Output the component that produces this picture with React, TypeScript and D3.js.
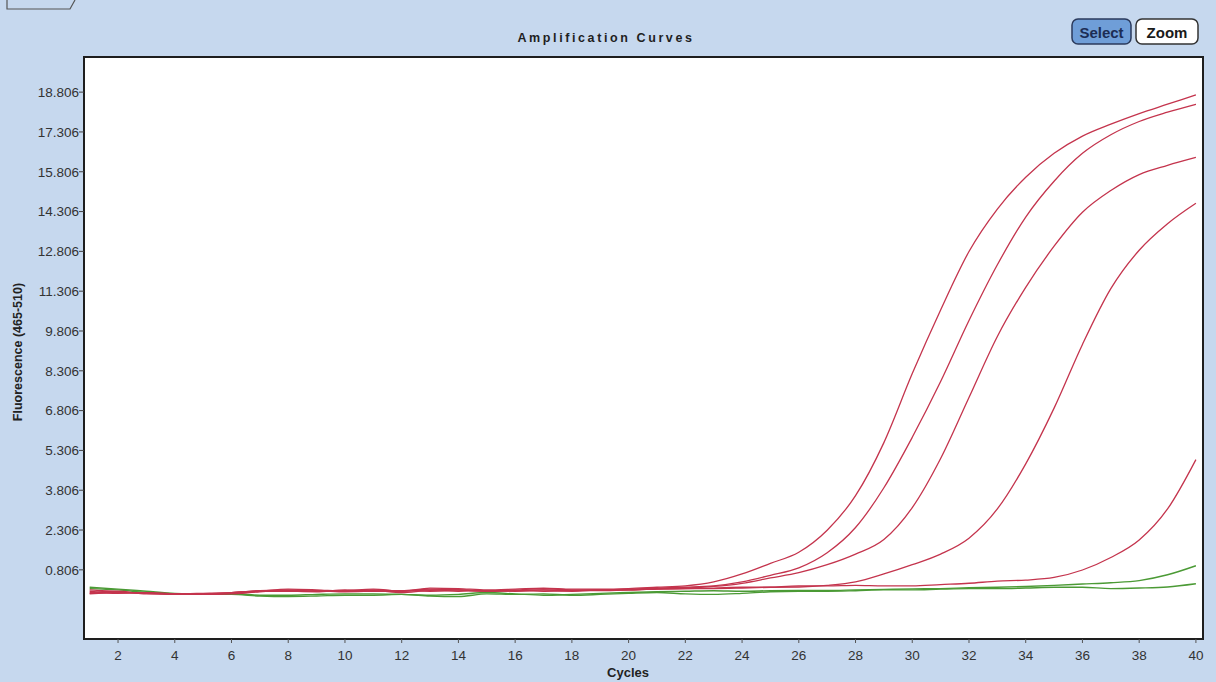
import React from 'react';
import * as d3 from 'd3';

// cycle numbers (x categories)
const cycles = [1, 2, 3, 4, 5, 6, 7, 8, 9, 10, 11, 12, 13, 14, 15, 16, 17, 18, 19, 20,
    21, 22, 23, 24, 25, 26, 27, 28, 29, 30, 31, 32, 33, 34, 35, 36, 37, 38, 39, 40];

const xTicks = [2, 4, 6, 8, 10, 12, 14, 16, 18, 20, 22, 24, 26, 28, 30, 32, 34, 36, 38, 40];
const yTicks = [0.806, 2.306, 3.806, 5.306, 6.806, 8.306, 9.806, 11.306, 12.806, 14.306, 15.806, 17.306, 18.806];

// fluorescence, one value per cycle
const redA = [0.05, -0.02, -0.08, -0.1, -0.08, -0.05, 0.02, 0.05, 0.0, 0.02, 0.08, 0.0, 0.12, 0.1, 0.05, 0.08, 0.12, 0.08, 0.08, 0.1,
    0.15, 0.2, 0.35, 0.65, 1.05, 1.47, 2.3, 3.6, 5.6, 8.2, 10.6, 12.8, 14.4, 15.6, 16.5, 17.15, 17.6, 18.0, 18.35, 18.7];
const redB = [-0.05, 0.0, -0.1, -0.1, -0.1, -0.08, 0.0, 0.08, 0.05, 0.0, 0.05, 0.02, 0.08, 0.05, 0.02, 0.05, 0.1, 0.05, 0.05, 0.08,
    0.12, 0.15, 0.2, 0.35, 0.6, 0.88, 1.45, 2.4, 3.9, 5.8, 7.9, 10.2, 12.3, 14.1, 15.45, 16.5, 17.2, 17.7, 18.05, 18.35];
const redC = [-0.1, -0.05, -0.05, -0.12, -0.1, -0.06, 0.02, 0.0, -0.02, 0.05, 0.0, 0.0, 0.05, 0.05, 0.0, 0.02, 0.05, 0.02, 0.02, 0.05,
    0.1, 0.12, 0.18, 0.3, 0.5, 0.7, 1.0, 1.4, 1.95, 3.15, 5.0, 7.3, 9.6, 11.45, 13.0, 14.28, 15.1, 15.7, 16.05, 16.35];
const redD = [0.0, -0.08, -0.05, -0.1, -0.12, -0.1, -0.02, 0.02, 0.0, 0.0, 0.02, -0.05, 0.02, 0.0, 0.02, 0.0, 0.05, 0.0, 0.05, 0.05,
    0.08, 0.1, 0.12, 0.15, 0.15, 0.16, 0.22, 0.35, 0.65, 1.0, 1.4, 2.0, 3.1, 4.8, 6.9, 9.3, 11.4, 12.85, 13.85, 14.62];
const redE = [-0.08, -0.05, -0.08, -0.1, -0.1, -0.05, 0.0, 0.0, 0.02, -0.02, 0.0, 0.02, 0.0, 0.05, 0.0, 0.02, 0.0, 0.02, 0.05, 0.05,
    0.08, 0.1, 0.1, 0.12, 0.15, 0.2, 0.2, 0.22, 0.2, 0.2, 0.25, 0.3, 0.38, 0.42, 0.52, 0.8, 1.27, 1.93, 3.1, 4.96];
const greenA = [0.15, 0.08, 0.0, -0.08, -0.1, -0.1, -0.15, -0.15, -0.12, -0.1, -0.1, -0.12, -0.15, -0.12, -0.05, -0.1, -0.15, -0.12, -0.08, -0.05,
    -0.02, 0.0, 0.02, 0.0, 0.02, 0.03, 0.03, 0.05, 0.07, 0.09, 0.1, 0.13, 0.15, 0.18, 0.22, 0.27, 0.32, 0.4, 0.62, 0.96];
const greenB = [0.1, 0.05, -0.05, -0.1, -0.12, -0.12, -0.18, -0.2, -0.18, -0.15, -0.15, -0.12, -0.18, -0.2, -0.1, -0.12, -0.1, -0.15, -0.12, -0.08,
    -0.05, -0.1, -0.12, -0.08, -0.02, 0.0, 0.0, 0.02, 0.05, 0.05, 0.08, 0.1, 0.1, 0.12, 0.15, 0.15, 0.1, 0.12, 0.16, 0.28];

const greens = [greenA, greenB];
const reds = [redE, redD, redC, redB, redA];

export default function App() {
    const width = 1216;
    const height = 682;
    const plot = { left: 84, right: 1203, top: 57, bottom: 639 };

    const x = d3.scaleLinear().domain([0.8, 40.25]).range([plot.left, plot.right]);
    const y = d3.scaleLinear().domain([-1.8, 20.13]).range([plot.bottom, plot.top]);

    const line = d3.line<number>()
        .x((d, i) => x(cycles[i]))
        .y(d => y(d))
        .curve(d3.curveMonotoneX);

    const font = '"Liberation Sans", Arial, sans-serif';

    return (
        <svg width={width} height={height}
            style={{ position: 'absolute', left: 0, top: 0, display: 'block' }}
            fontFamily={font}>
            <rect x={0} y={0} width={width} height={height} fill="#c6d8ee" />

            {/* little tab in the top-left corner */}
            <path d="M7,0 L7,9 L70,9 L75,0" fill="none" stroke="#555" strokeWidth={1.2} />

            {/* title */}
            <text x={606} y={42} textAnchor="middle" fontSize={12.5} fontWeight="bold"
                letterSpacing={2.6} fill="#1f1f1f">
                Amplification Curves
            </text>

            {/* Select / Zoom buttons */}
            <rect x={1072} y={19} width={59} height={25} rx={6} fill="#6f9ed8" stroke="#2b3a5c" strokeWidth={1.5} />
            <text x={1101.5} y={37.5} textAnchor="middle" fontSize={15} fontWeight="bold" fill="#1c2d55">Select</text>
            <rect x={1136} y={19} width={62} height={25} rx={6} fill="#ffffff" stroke="#333" strokeWidth={1.5} />
            <text x={1167} y={37.5} textAnchor="middle" fontSize={15} fontWeight="bold" fill="#1a1a1a">Zoom</text>

            {/* plot area */}
            <rect x={plot.left} y={plot.top} width={plot.right - plot.left} height={plot.bottom - plot.top}
                fill="#ffffff" />

            <defs>
                <clipPath id="plotClip">
                    <rect x={plot.left} y={plot.top} width={plot.right - plot.left} height={plot.bottom - plot.top} />
                </clipPath>
            </defs>
            <g clipPath="url(#plotClip)">
                {greens.map((s, i) => (
                    <path key={'g' + i} d={line(s) || ''} fill="none" stroke="#4b9a35" strokeWidth={1.4} />
                ))}
                {reds.map((s, i) => (
                    <path key={'r' + i} d={line(s) || ''} fill="none" stroke="#c4344d" strokeWidth={1.3} />
                ))}
            </g>

            <rect x={plot.left} y={plot.top} width={plot.right - plot.left} height={plot.bottom - plot.top}
                fill="none" stroke="#1e1e1e" strokeWidth={2} />

            {/* y axis */}
            {yTicks.map(t => (
                <g key={t}>
                    <line x1={plot.left - 5} x2={plot.left} y1={y(t)} y2={y(t)} stroke="#444" strokeWidth={1} />
                    <text x={plot.left - 5} y={y(t)} dy="0.36em" textAnchor="end" fontSize={13.5} fill="#333">
                        {t.toFixed(3)}
                    </text>
                </g>
            ))}

            {/* x axis */}
            {xTicks.map(t => (
                <g key={t}>
                    <line x1={x(t)} x2={x(t)} y1={plot.bottom} y2={plot.bottom + 4} stroke="#555" strokeWidth={1} />
                    <text x={x(t)} y={660} textAnchor="middle" fontSize={13.5} fill="#333">{t}</text>
                </g>
            ))}

            {/* axis titles */}
            <text x={628} y={677} textAnchor="middle" fontSize={13} fontWeight="bold" fill="#222">Cycles</text>
            <text x={22} y={352} textAnchor="middle" fontSize={12.5} fontWeight="bold" fill="#222"
                transform="rotate(-90, 22, 352)">
                Fluorescence (465-510)
            </text>
        </svg>
    );
}
